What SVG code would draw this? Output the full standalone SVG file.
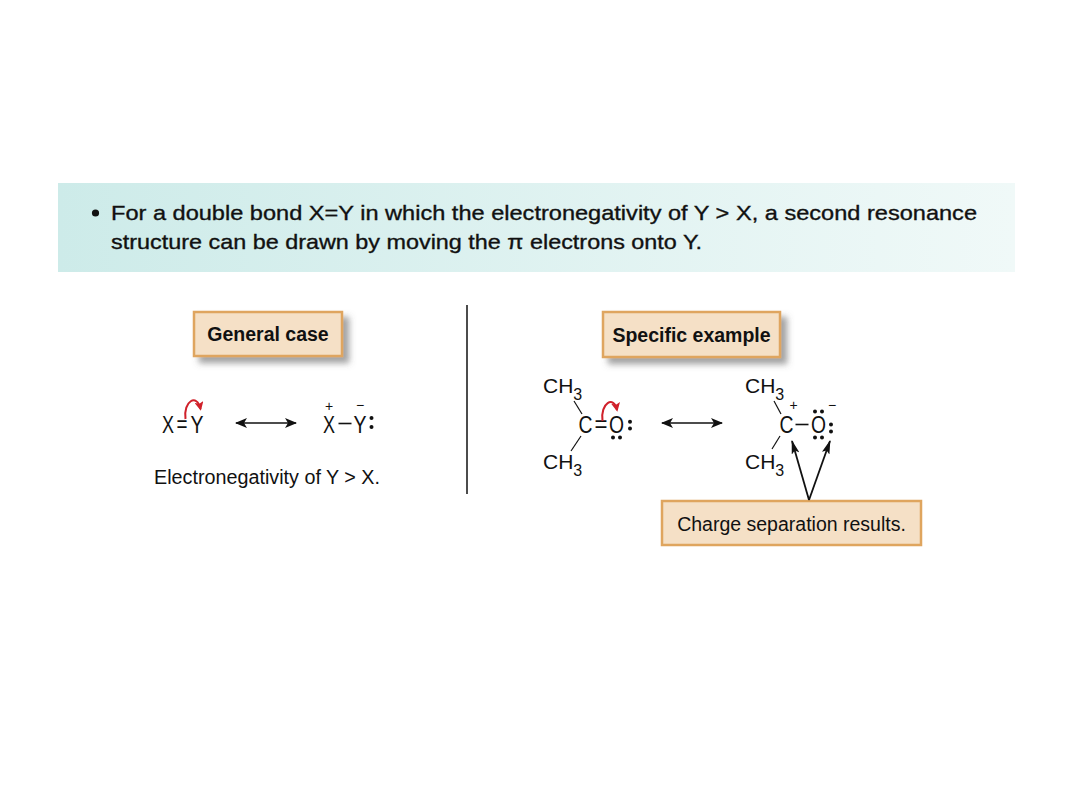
<svg xmlns="http://www.w3.org/2000/svg" width="1080" height="810" viewBox="0 0 1080 810">
<defs>
<linearGradient id="ban" x1="0" y1="0" x2="1" y2="0">
<stop offset="0" stop-color="#cdebe9"/>
<stop offset="1" stop-color="#f0f9f8"/>
</linearGradient>
<filter id="shadow" x="-20%" y="-30%" width="150%" height="180%">
<feDropShadow dx="6" dy="6" stdDeviation="3" flood-color="#555" flood-opacity="0.55"/>
</filter>
<marker id="dh" viewBox="0 0 12 10" refX="11" refY="5" markerWidth="12" markerHeight="10" markerUnits="userSpaceOnUse" orient="auto-start-reverse">
<path d="M0,0 L12,5 L0,10 L3,5 Z" fill="#111"/>
</marker>
<marker id="lh" viewBox="0 0 14 8" refX="13" refY="4" markerWidth="14" markerHeight="8" markerUnits="userSpaceOnUse" orient="auto">
<path d="M0,0 L14,4 L0,8 L3,4 Z" fill="#111"/>
</marker>
<marker id="rh" viewBox="0 0 10 10" refX="8" refY="5" markerWidth="9" markerHeight="9" markerUnits="userSpaceOnUse" orient="auto">
<path d="M0,0 L10,5 L0,10 L2,5 Z" fill="#d0202a"/>
</marker>
</defs>
<style>
.t{font-family:"Liberation Sans",Arial,sans-serif;fill:#111}
.ban{font-size:21px;stroke:#111;stroke-width:0.35}
.lbl{font-size:19.5px;font-weight:bold;text-anchor:middle}
.reg{font-size:19.5px}
.ch{font-size:23px;text-anchor:middle}
.ch3{font-size:21px}
.sub{font-size:16px}
.chg{font-size:14px;text-anchor:middle}
.box{fill:#f5e0c6;stroke:#dfa55e;stroke-width:2.5}
.bond{stroke:#111;stroke-width:1.2;fill:none}
.sb{stroke:#111;stroke-width:1.6;fill:none}
.dot{fill:#111}
.red{stroke:#d0202a;stroke-width:2;fill:none}
</style>
<rect width="1080" height="810" fill="#fff"/>

<g id="banner">
<rect x="58" y="183" width="957" height="89" fill="url(#ban)"/>
<circle cx="95.5" cy="213" r="3.6" fill="#111"/>
<text class="t ban" x="111" y="220" textLength="866" lengthAdjust="spacingAndGlyphs">For a double bond X=Y in which the electronegativity of Y &gt; X, a second resonance</text>
<text class="t ban" x="111" y="249" textLength="591" lengthAdjust="spacingAndGlyphs">structure can be drawn by moving the π electrons onto Y.</text>
</g>

<g id="divider">
<line x1="467" y1="305" x2="467" y2="494" stroke="#111" stroke-width="1.5"/>
</g>

<g id="general-case">
<rect class="box" x="194" y="312" width="148" height="44" filter="url(#shadow)"/>
<text class="t lbl" x="268" y="341">General case</text>
</g>

<g id="specific-example">
<rect class="box" x="603" y="312" width="177" height="45" filter="url(#shadow)"/>
<text class="t lbl" x="691.5" y="342">Specific example</text>
</g>

<g id="general-structure-1">
<text class="t ch" x="168" y="433" textLength="12" lengthAdjust="spacingAndGlyphs">X</text>
<text class="t ch" x="182" y="431.5" textLength="11" lengthAdjust="spacingAndGlyphs">=</text>
<text class="t ch" x="197" y="433" textLength="13" lengthAdjust="spacingAndGlyphs">Y</text>
</g>

<g id="general-structure-2">
<text class="t ch" x="329" y="433" textLength="12" lengthAdjust="spacingAndGlyphs">X</text>
<line class="sb" x1="338.5" y1="423.5" x2="351.5" y2="423.5"/>
<text class="t ch" x="360" y="433" textLength="13" lengthAdjust="spacingAndGlyphs">Y</text>
<text class="t chg" x="329" y="411">+</text>
<text class="t chg" x="360" y="410">−</text>
<circle class="dot" cx="371.5" cy="418" r="2"/>
<circle class="dot" cx="371.5" cy="427" r="2"/>
</g>

<g id="general-note">
<text class="t reg" x="154" y="484" textLength="226" lengthAdjust="spacingAndGlyphs">Electronegativity of Y &gt; X.</text>
</g>

<g id="specific-structure-1">
<text class="t ch3" x="543" y="393">CH<tspan class="sub" dy="7">3</tspan></text>
<text class="t ch3" x="543" y="468.5">CH<tspan class="sub" dy="7">3</tspan></text>
<text class="t ch" x="585.5" y="433" textLength="14" lengthAdjust="spacingAndGlyphs">C</text>
<text class="t ch" x="601" y="431.5" textLength="13" lengthAdjust="spacingAndGlyphs">=</text>
<text class="t ch" x="616.5" y="433" textLength="15" lengthAdjust="spacingAndGlyphs">O</text>
<circle class="dot" cx="630" cy="421.7" r="2"/>
<circle class="dot" cx="630" cy="428.5" r="2"/>
<circle class="dot" cx="613" cy="437.5" r="2"/>
<circle class="dot" cx="620" cy="437.5" r="2"/>
</g>

<g id="specific-structure-2">
<text class="t ch3" x="745" y="393">CH<tspan class="sub" dy="7">3</tspan></text>
<text class="t ch3" x="745" y="468.5">CH<tspan class="sub" dy="7">3</tspan></text>
<text class="t ch" x="786.5" y="433" textLength="14" lengthAdjust="spacingAndGlyphs">C</text>
<line class="sb" x1="795.5" y1="424.5" x2="808.5" y2="424.5"/>
<text class="t ch" x="818.5" y="433" textLength="15" lengthAdjust="spacingAndGlyphs">O</text>
<text class="t chg" x="793.5" y="410">+</text>
<text class="t chg" x="832" y="410">−</text>
<circle class="dot" cx="815" cy="411.5" r="2"/>
<circle class="dot" cx="822" cy="411.5" r="2"/>
<circle class="dot" cx="831" cy="424.5" r="2"/>
<circle class="dot" cx="831" cy="431.5" r="2"/>
<circle class="dot" cx="815" cy="437.5" r="2"/>
<circle class="dot" cx="822" cy="437.5" r="2"/>
</g>

<g id="charge-separation">
<rect class="box" x="662" y="501" width="259" height="44"/>
<text class="t reg" x="791.5" y="531" text-anchor="middle">Charge separation results.</text>
</g>

<g id="connectors">
<line x1="236" y1="423" x2="296" y2="423" stroke="#111" stroke-width="1.5" marker-start="url(#dh)" marker-end="url(#dh)"/>
<line x1="662" y1="423" x2="722" y2="423" stroke="#111" stroke-width="1.5" marker-start="url(#dh)" marker-end="url(#dh)"/>
<path class="bond" d="M574,401 L582,414"/>
<path class="bond" d="M581,436 L571,451"/>
<path class="bond" d="M774,401 L781,414"/>
<path class="bond" d="M780,436 L772,449"/>
<path class="red" d="M185.5,419 C183,401 197,393 200.5,409" marker-end="url(#rh)"/>
<path class="red" d="M602.5,421 C600,403 614,395 617,410" marker-end="url(#rh)"/>
<line x1="809" y1="500" x2="792" y2="441" stroke="#111" stroke-width="1.8" marker-end="url(#lh)"/>
<line x1="809" y1="500" x2="830" y2="441" stroke="#111" stroke-width="1.8" marker-end="url(#lh)"/>
</g>
</svg>
